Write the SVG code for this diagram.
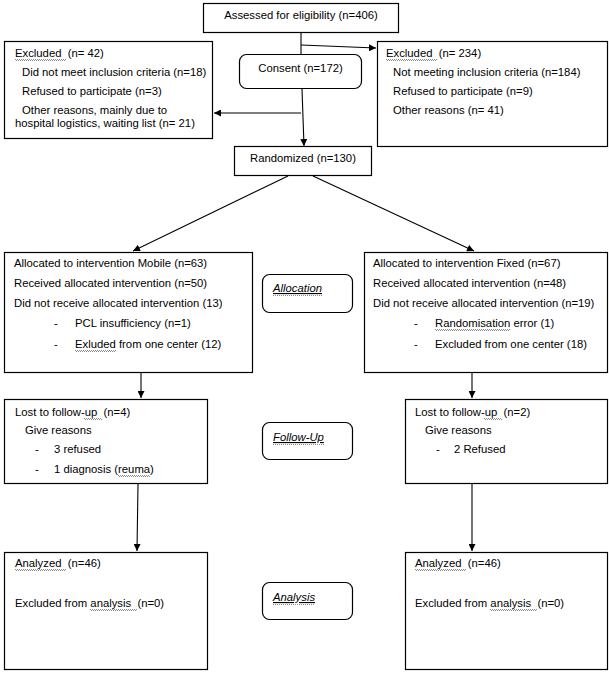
<svg xmlns="http://www.w3.org/2000/svg" width="609" height="674" viewBox="0 0 609 674">
<style>
  .bx { fill: #fff; stroke: #000; stroke-width: 1.2; }
  .t { font-family: "Liberation Sans", Arial, sans-serif; font-size: 11.3px; fill: #000; white-space: pre; }
  .c { text-anchor: middle; }
  .i { font-style: italic; text-decoration: underline; }
  .ln { fill: none; stroke: #000; stroke-width: 1.1; }
  .sq { fill: none; stroke: #8c8c8c; stroke-width: 1; stroke-dasharray: 1 1; }
  .sq2 { fill: none; stroke: #8c8c8c; stroke-width: 1; stroke-dasharray: 1 1; stroke-dashoffset: 1; }
</style>
<defs>
  <marker id="ah" markerUnits="userSpaceOnUse" markerWidth="8" markerHeight="7" refX="7" refY="3.5" orient="auto">
    <path d="M0,0 L7,3.5 L0,7 z" fill="#000"/>
  </marker>
</defs>
<rect width="609" height="674" fill="#fff"/>

<g id="connectors">
  <path class="ln" d="M301,33 L301,54"/>
  <path class="ln" d="M301,45 L376,48" marker-end="url(#ah)"/>
  <path class="ln" d="M302,89 L304,146" marker-end="url(#ah)"/>
  <path class="ln" d="M301,113 L214,113" marker-end="url(#ah)"/>
  <path class="ln" d="M288,176 L133,251" marker-end="url(#ah)"/>
  <path class="ln" d="M313,176 L474,251" marker-end="url(#ah)"/>
  <path class="ln" d="M141,373 L141,398" marker-end="url(#ah)"/>
  <path class="ln" d="M472,373 L472,398" marker-end="url(#ah)"/>
  <path class="ln" d="M138,484 L137,551" marker-end="url(#ah)"/>
  <path class="ln" d="M472,484 L472,551" marker-end="url(#ah)"/>
</g>

<g id="assessed">
  <rect class="bx" x="203.5" y="3.5" width="195" height="29"/>
  <text class="t c" x="301" y="19">Assessed for eligibility (n=406)</text>
</g>

<g id="excluded-left">
  <rect class="bx" x="4.5" y="41.5" width="208" height="97"/>
  <text class="t" x="15" y="57">Excluded  (n= 42)</text>
  <path class="sq" d="M15,59.5 H66"/><path class="sq2" d="M15,60.5 H66"/>
  <text class="t" x="22" y="76">Did not meet inclusion criteria (n=18)</text>
  <text class="t" x="22" y="95">Refused to participate (n=3)</text>
  <text class="t" x="22" y="114">Other reasons, mainly due to</text>
  <text class="t" x="15" y="127">hospital logistics, waiting list (n= 21)</text>
</g>

<g id="consent">
  <rect class="bx" x="239.5" y="54.5" width="122" height="34" rx="7" ry="7"/>
  <text class="t c" x="300.5" y="72">Consent (n=172)</text>
</g>

<g id="excluded-right">
  <rect class="bx" x="377.5" y="41.5" width="230" height="105"/>
  <text class="t" x="386" y="57">Excluded  (n= 234)</text>
  <path class="sq" d="M386,59.5 H437"/><path class="sq2" d="M386,60.5 H437"/>
  <text class="t" x="393" y="76">Not meeting inclusion criteria (n=184)</text>
  <text class="t" x="393" y="95">Refused to participate (n=9)</text>
  <text class="t" x="393" y="114">Other reasons (n= 41)</text>
</g>

<g id="randomized">
  <rect class="bx" x="234.5" y="146.5" width="137" height="29"/>
  <text class="t c" x="303" y="162">Randomized (n=130)</text>
</g>

<g id="allocated-mobile">
  <rect class="bx" x="4.5" y="252.5" width="248" height="120"/>
  <text class="t" x="14" y="267">Allocated to intervention Mobile (n=63)</text>
  <text class="t" x="14" y="287">Received allocated intervention (n=50)</text>
  <text class="t" x="14" y="307">Did not receive allocated intervention (13)</text>
  <text class="t" x="54" y="327">-</text>
  <text class="t" x="75" y="327">PCL insufficiency (n=1)</text>
  <text class="t" x="54" y="348">-</text>
  <text class="t" x="75" y="348">Exluded from one center (12)</text>
  <path class="sq" d="M75,350.5 H116"/><path class="sq2" d="M75,351.5 H116"/>
</g>

<g id="allocation-label">
  <rect class="bx" x="262.5" y="274.5" width="90" height="38" rx="7" ry="7"/>
  <text class="t i" x="273" y="292">Allocation</text>
  <path class="sq" d="M273,295.5 H322"/>
</g>

<g id="allocated-fixed">
  <rect class="bx" x="364.5" y="252.5" width="243" height="120"/>
  <text class="t" x="373" y="267">Allocated to intervention Fixed (n=67)</text>
  <text class="t" x="373" y="287">Received allocated intervention (n=48)</text>
  <text class="t" x="373" y="307">Did not receive allocated intervention (n=19)</text>
  <text class="t" x="414" y="327">-</text>
  <text class="t" x="435" y="327">Randomisation error (1)</text>
  <path class="sq" d="M435,329.5 H510"/><path class="sq2" d="M435,330.5 H510"/>
  <text class="t" x="414" y="348">-</text>
  <text class="t" x="435" y="348">Excluded from one center (18)</text>
</g>

<g id="lost-mobile">
  <rect class="bx" x="4.5" y="399.5" width="203" height="84"/>
  <text class="t" x="15" y="416">Lost to follow-up  (n=4)</text>
  <path class="sq" d="M84,418.5 H102"/><path class="sq2" d="M84,419.5 H102"/>
  <text class="t" x="25" y="434">Give reasons</text>
  <text class="t" x="35" y="453">-</text>
  <text class="t" x="54" y="453">3 refused</text>
  <text class="t" x="35" y="473">-</text>
  <text class="t" x="54" y="473">1 diagnosis (reuma)</text>
  <path class="sq" d="M118,475.5 H150"/><path class="sq2" d="M118,476.5 H150"/>
</g>

<g id="followup-label">
  <rect class="bx" x="262.5" y="422.5" width="90" height="37" rx="7" ry="7"/>
  <text class="t i" x="273" y="441">Follow-Up</text>
  <path class="sq" d="M273,444.5 H324"/>
</g>

<g id="lost-fixed">
  <rect class="bx" x="405.5" y="399.5" width="202" height="84"/>
  <text class="t" x="415" y="416">Lost to follow-up  (n=2)</text>
  <path class="sq" d="M484,418.5 H502"/><path class="sq2" d="M484,419.5 H502"/>
  <text class="t" x="425" y="434">Give reasons</text>
  <text class="t" x="436" y="453">-</text>
  <text class="t" x="454" y="453">2 Refused</text>
</g>

<g id="analyzed-mobile">
  <rect class="bx" x="4.5" y="552.5" width="203" height="117"/>
  <text class="t" x="15" y="567">Analyzed  (n=46)</text>
  <path class="sq" d="M15,569.5 H66"/><path class="sq2" d="M15,570.5 H66"/>
  <text class="t" x="15" y="607">Excluded from analysis  (n=0)</text>
  <path class="sq" d="M90,609.5 H137"/><path class="sq2" d="M90,610.5 H137"/>
</g>

<g id="analysis-label">
  <rect class="bx" x="262.5" y="582.5" width="90" height="37" rx="7" ry="7"/>
  <text class="t i" x="273" y="601">Analysis</text>
  <path class="sq" d="M273,604.5 H315"/>
</g>

<g id="analyzed-fixed">
  <rect class="bx" x="405.5" y="552.5" width="202" height="117"/>
  <text class="t" x="415" y="567">Analyzed  (n=46)</text>
  <path class="sq" d="M415,569.5 H466"/><path class="sq2" d="M415,570.5 H466"/>
  <text class="t" x="415" y="607">Excluded from analysis  (n=0)</text>
  <path class="sq" d="M490,609.5 H537"/><path class="sq2" d="M490,610.5 H537"/>
</g>
</svg>
